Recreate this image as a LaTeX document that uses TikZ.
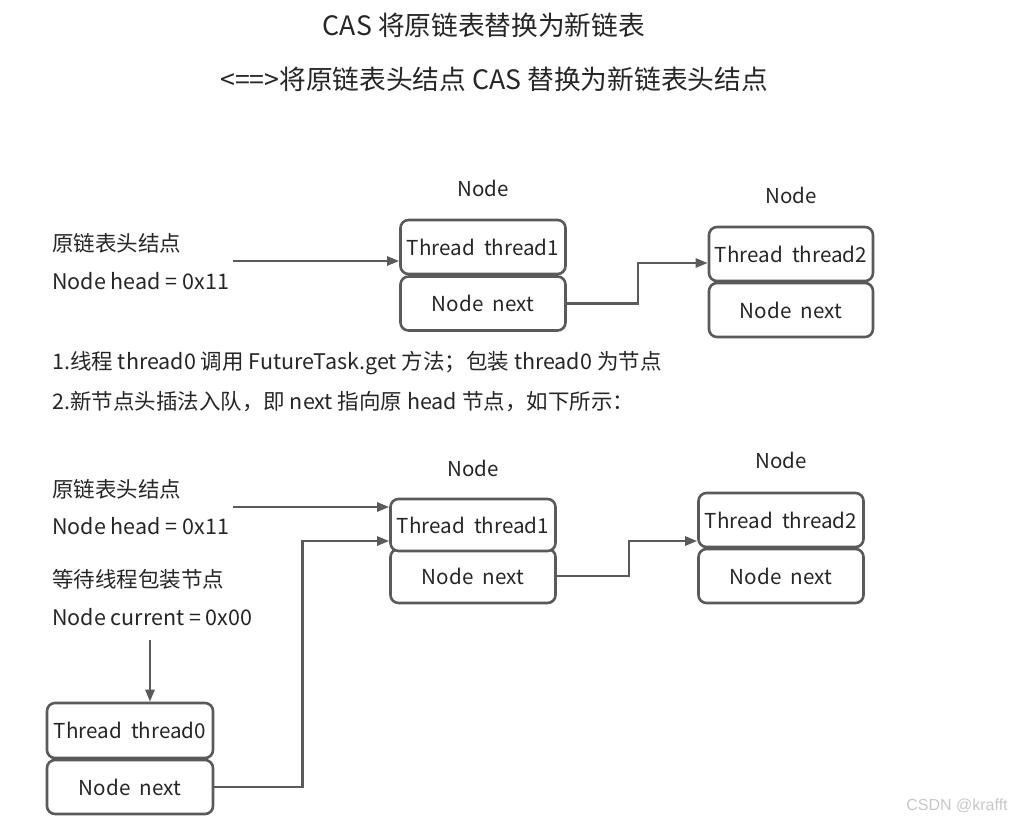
\documentclass[tikz,border=0pt]{standalone}
\usepackage{fontspec}
\setmainfont{Noto Sans CJK SC}
\newfontfamily\wmfont{Liberation Sans}
\usetikzlibrary{arrows.meta,calc}
\definecolor{ink}{HTML}{262626}
\definecolor{edge}{HTML}{5A5A5A}
\definecolor{wm}{HTML}{C8C8C8}
\tikzset{
  cell/.style={draw=edge, line width=2.6pt, rounded corners=8pt, fill=white,
    minimum width=165pt, minimum height=54pt, inner sep=0pt, text=ink,
    font=\fontsize{20.6}{24}\selectfont},
  lbl/.style={anchor=west, inner sep=0pt, text=ink, font=\fontsize{21.5}{25}\selectfont},
  nodecap/.style={inner sep=0pt, text=ink, font=\fontsize{20.5}{24}\selectfont},
  ttl/.style={inner sep=0pt, text=ink, font=\fontsize{26.7}{30}\selectfont},
  arr/.style={draw=edge, line width=2.5pt, -{Triangle[length=12pt,width=9pt]}},
}
\begin{document}
\begin{tikzpicture}[x=1pt,y=-1pt]
\useasboundingbox (0,0) rectangle (1019,825);
\fill[white] (0,0) rectangle (1019,825);

% titles
\node[ttl] (t1) at (484,25) {CAS 将原链表替换为新链表};
\node[ttl] (t2) at (494,79) {<==>将原链表头结点 CAS 替换为新链表头结点};

% ---- row 1
\node[lbl] (l1a) at (52,243) {原链表头结点};
\node[lbl] (l1b) at (52,281) {Node head = 0x11};
\coordinate (h1) at (233,261);

\node[nodecap] (c1) at (483,188) {Node};
\node[cell] (b1n) at (483,303.5) {Node\ \ next};
\node[cell] (b1t) at (483,247) {Thread\ \ thread1};

\node[nodecap] (c2) at (791,195) {Node};
\node[cell, minimum width=164pt] (b2n) at (791,310) {Node\ \ next};
\node[cell, minimum width=164pt] (b2t) at (791,254) {Thread\ \ thread2};

\draw[arr] (h1) -- (h1 -| b1t.west);
\draw[arr] (b1n.east) -- ++(71,0) |- ([yshift=-9pt]b2t.west);

% ---- middle text
\node[lbl] (m1) at (52,363) {1.线程 thread0 调用 FutureTask.get 方法；包装 thread0 为节点};
\node[lbl] (m2) at (52,402) {2.新节点头插法入队，即 next 指向原 head 节点，如下所示：};

% ---- row 2
\node[lbl] (l2a) at (52,489) {原链表头结点};
\node[lbl] (l2b) at (52,526) {Node head = 0x11};
\node[lbl] (l2c) at (52,579) {等待线程包装节点};
\node[lbl] (l2d) at (52,617) {Node current = 0x00};
\coordinate (h2) at (233,507);
\coordinate (cdn) at (150,640);

\node[nodecap] (c3) at (473,468) {Node};
\node[cell] (b3n) at (473,576) {Node\ \ next};
\node[cell, minimum height=52pt] (b3t) at (473,525) {Thread\ \ thread1};

\node[nodecap] (c4) at (781,460) {Node};
\node[cell] (b4n) at (781,576) {Node\ \ next};
\node[cell] (b4t) at (781,520) {Thread\ \ thread2};

\node[cell, minimum width=166pt] (t0n) at (130,787) {Node\ \ next};
\node[cell, minimum width=166pt, minimum height=55pt] (t0t) at (130,730.5) {Thread\ \ thread0};

\draw[arr] (h2) -- (h2 -| b3t.west);
\draw[arr] (t0n.east) -- ++(88,0) |- ([yshift=-16pt]b3t.west);
\draw[arr] (b3n.east) -- ++(72,0) |- ([yshift=-21pt]b4t.west);
\draw[arr] (cdn) -- (cdn |- t0t.north);

% watermark
\node[inner sep=0pt, text=wm, font=\wmfont\fontsize{16}{18}\selectfont] (wmk) at (957,806) {CSDN @krafft};
\end{tikzpicture}
\end{document}
